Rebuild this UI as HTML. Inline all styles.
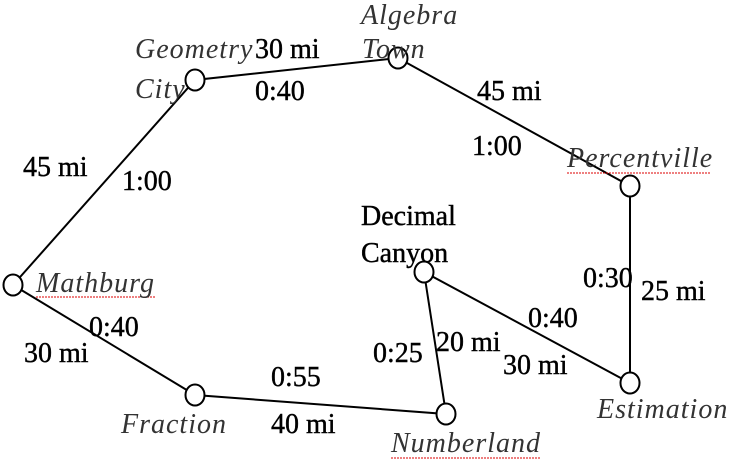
<!DOCTYPE html>
<html><head><meta charset="utf-8"><style>
html,body{margin:0;padding:0;background:#fff;}
svg{display:block}
text{font-family:"Liberation Serif",serif;font-size:28px;fill:#000}
.n{stroke:#000;stroke-width:0.4}
.i{font-style:italic;fill:#333;letter-spacing:1px}
</style></head><body>
<svg width="742" height="475" viewBox="0 0 742 475" xmlns="http://www.w3.org/2000/svg">
<g stroke="#000" stroke-width="2" fill="none">
<polyline points="13,285 195,80 398,58 630,186 630,383 424,272 446,414 195,395 13,285"/>
</g>
<g stroke="#000" stroke-width="2" fill="#fff">
<ellipse cx="195" cy="80" rx="9.5" ry="10.5"/>
<ellipse cx="398" cy="58" rx="9.5" ry="10.5"/>
<ellipse cx="630" cy="186" rx="9.5" ry="10.5"/>
<ellipse cx="424" cy="272" rx="9.5" ry="10.5"/>
<ellipse cx="13" cy="285" rx="9.5" ry="10.5"/>
<ellipse cx="195" cy="395" rx="9.5" ry="10.5"/>
<ellipse cx="446" cy="414" rx="9.5" ry="10.5"/>
<ellipse cx="630" cy="383" rx="9.5" ry="10.5"/>
</g>
<g stroke="#d00" stroke-width="1" fill="none" stroke-dasharray="2,1">
<line x1="36" y1="297" x2="156" y2="297"/>
<line x1="567" y1="173" x2="710" y2="173"/>
<line x1="391" y1="458" x2="541" y2="458"/>
</g>
<text class="i" x="361" y="24">Algebra</text>
<text class="i" x="362" y="58">Town</text>
<text class="i" x="135" y="58">Geometry</text>
<text class="i" x="135" y="98">City</text>
<text class="n" x="255" y="58">30 mi</text>
<text class="n" x="255" y="100">0:40</text>
<text class="n" x="477" y="100">45 mi</text>
<text class="n" x="472" y="155">1:00</text>
<text class="i" x="567" y="167">Percentville</text>
<text class="n" x="23" y="176">45 mi</text>
<text class="n" x="122" y="190">1:00</text>
<text class="n" x="361" y="225">Decimal</text>
<text class="n" x="361" y="262">Canyon</text>
<text class="i" x="36" y="292">Mathburg</text>
<text class="n" x="583" y="287">0:30</text>
<text class="n" x="641" y="300">25 mi</text>
<text class="n" x="89" y="336">0:40</text>
<text class="n" x="24" y="362">30 mi</text>
<text class="n" x="528" y="327">0:40</text>
<text class="n" x="373" y="362">0:25</text>
<text class="n" x="436" y="351">20 mi</text>
<text class="n" x="503" y="374">30 mi</text>
<text class="n" x="271" y="386">0:55</text>
<text class="i" x="121" y="433">Fraction</text>
<text class="n" x="271" y="433">40 mi</text>
<text class="i" x="391" y="452">Numberland</text>
<text class="i" x="597" y="418">Estimation</text>
</svg>
</body></html>
